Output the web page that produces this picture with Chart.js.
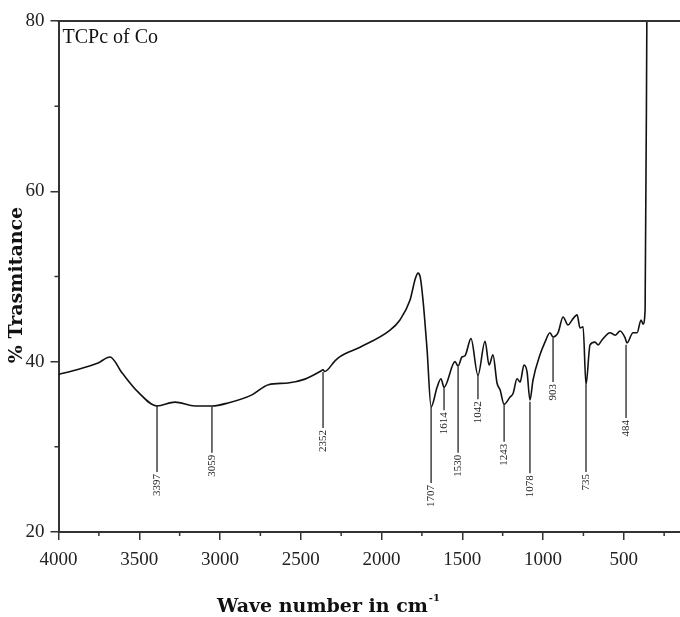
<!DOCTYPE html>
<html>
<head>
<meta charset="utf-8">
<script src="https://cdn.jsdelivr.net/npm/chart.js@4/dist/chart.umd.min.js"></script>
<style>
  html, body { margin: 0; padding: 0; background: #fff; }
  #wrap { width: 680px; height: 617px; }
</style>
</head>
<body>
<div id="wrap"><canvas id="chartIR" width="680" height="617"></canvas></div>
<script>
// IR spectrum
const waveNumbers = [4000, 3898, 3755, 3681, 3607, 3508, 3390, 3279, 3155, 3050, 2950, 2802, 2700, 2579, 2474, 2375, 2362, 2352, 2288, 2257, 2133, 1947, 1886, 1824, 1790, 1774, 1760, 1743, 1718, 1693, 1656, 1632, 1613, 1545, 1526, 1502, 1483, 1446, 1403, 1359, 1334, 1310, 1285, 1266, 1241, 1204, 1185, 1161, 1142, 1118, 1099, 1081, 1062, 1019, 988, 957, 938, 907, 876, 845, 820, 789, 771, 752, 734, 709, 678, 659, 635, 585, 554, 523, 492, 480, 443, 418, 393, 381, 368, 356];
const transmittance = [38.5, 39.0, 39.85, 40.55, 38.7, 36.45, 34.8, 35.25, 34.8, 34.8, 35.15, 36.1, 37.3, 37.5, 37.95, 38.9, 39.05, 38.85, 40.1, 40.6, 41.7, 43.7, 44.9, 47.2, 49.8, 50.4, 49.9, 47.2, 41.4, 34.7, 37.0, 38.0, 37.0, 40.0, 39.5, 40.55, 40.7, 42.7, 38.4, 42.4, 39.6, 40.8, 37.5, 36.7, 35.0, 35.85, 36.3, 38.0, 37.6, 39.6, 38.8, 35.5, 37.85, 40.8, 42.3, 43.4, 42.9, 43.4, 45.25, 44.3, 44.9, 45.5, 43.95, 44.1, 37.3, 41.96, 42.3, 41.96, 42.55, 43.4, 43.1, 43.6, 42.8, 42.2, 43.4, 43.4, 44.9, 44.4, 46.1, 85];

// peak markers: where the line sits, its top/bottom and the printed label
const markPos = [3390, 3050, 2362, 1693, 1613, 1526, 1403, 1241, 1081, 938, 734, 486];
const markTop = [34.8, 34.7, 38.8, 34.7, 37.0, 39.4, 38.4, 35.0, 35.3, 42.8, 37.3, 42.0];
const markBottom = [27.05, 29.3, 32.2, 25.75, 34.3, 29.3, 35.6, 30.6, 26.9, 37.6, 27.05, 33.4];
const markLabels = ['3397', '3059', '2352', '1707', '1614', '1530', '1042', '1243', '1078', '903', '735', '484'];

const xMajor = [4000, 3500, 3000, 2500, 2000, 1500, 1000, 500];
const xMinor = [3750, 3250, 2750, 2250, 1750, 1250, 750, 250];
const yMajor = [20, 40, 60, 80];
const yMinor = [30, 50, 70];

const INK = '#111';
const AXIS = '#333';
const SERIF = '"Liberation Serif", "Times New Roman", serif';
const TITLE = '"DejaVu Serif", serif';

const frame = {
  id: 'frame',
  afterDraw(chart) {
    const { ctx, chartArea, scales } = chart;
    const x = scales.x, y = scales.y;
    ctx.save();
    ctx.strokeStyle = AXIS;
    ctx.lineWidth = 2;
    // top border
    ctx.beginPath();
    ctx.moveTo(chartArea.left - 1, chartArea.top);
    ctx.lineTo(chartArea.right, chartArea.top);
    ctx.stroke();
    // minor ticks
    ctx.lineWidth = 1.5;
    ctx.beginPath();
    xMinor.forEach(v => {
      const px = x.getPixelForValue(v);
      ctx.moveTo(px, chartArea.bottom);
      ctx.lineTo(px, chartArea.bottom + 4);
    });
    yMinor.forEach(v => {
      const py = y.getPixelForValue(v);
      ctx.moveTo(chartArea.left, py);
      ctx.lineTo(chartArea.left - 4, py);
    });
    ctx.stroke();

    // peak labels
    ctx.fillStyle = '#222';
    ctx.font = '11px ' + SERIF;
    ctx.textAlign = 'right';
    ctx.textBaseline = 'middle';
    markLabels.forEach((t, i) => {
      const px = x.getPixelForValue(markPos[i]);
      const py = y.getPixelForValue(markBottom[i]);
      ctx.save();
      ctx.translate(px, py + 2);
      ctx.rotate(-Math.PI / 2);
      ctx.fillText(t, 0, 0);
      ctx.restore();
    });

    // inner caption
    ctx.fillStyle = INK;
    ctx.font = '20px ' + SERIF;
    ctx.textAlign = 'left';
    ctx.textBaseline = 'top';
    ctx.fillText('TCPc of Co', chartArea.left + 4, chartArea.top + 7);

    // axis titles
    ctx.textBaseline = 'alphabetic';
    const main = 'Wave number in cm';
    ctx.font = 'bold 19px ' + TITLE;
    const w = ctx.measureText(main).width;
    ctx.font = 'bold 10px ' + TITLE;
    const ws = ctx.measureText('-1').width;
    const cx = 328 - (w + ws) / 2;
    ctx.font = 'bold 19px ' + TITLE;
    ctx.fillText(main, cx, 612);
    ctx.font = 'bold 10px ' + TITLE;
    ctx.fillText('-1', cx + w + 1, 601);

    ctx.save();
    ctx.translate(22, 285);
    ctx.rotate(-Math.PI / 2);
    ctx.font = 'bold 19px ' + TITLE;
    ctx.textAlign = 'center';
    ctx.fillText('% Trasmitance', 0, 0);
    ctx.restore();
    ctx.restore();
  }
};

const markSets = markPos.map((p, i) => ({
  data: [{ x: p, y: markTop[i] }, { x: p, y: markBottom[i] }],
  borderColor: AXIS,
  borderWidth: 1.4,
  pointRadius: 0,
  tension: 0
}));

new Chart(document.getElementById('chartIR'), {
  type: 'line',
  data: {
    datasets: [{
      data: waveNumbers.map((v, i) => ({ x: v, y: transmittance[i] })),
      borderColor: INK,
      borderWidth: 1.6,
      pointRadius: 0,
      cubicInterpolationMode: 'monotone'
    }].concat(markSets)
  },
  options: {
    responsive: false,
    animation: false,
    devicePixelRatio: 1,
    layout: { padding: { top: 21, right: 0, left: 0, bottom: 0 } },
    plugins: { legend: { display: false }, tooltip: { enabled: false } },
    scales: {
      x: {
        type: 'linear',
        reverse: true,
        min: 152,
        max: 4000,
        afterBuildTicks: s => { s.ticks = xMajor.map(v => ({ value: v })); },
        afterFit: s => { s.height = 85; },
        grid: { drawOnChartArea: false, tickLength: 8, color: AXIS, lineWidth: 1.5 },
        border: { color: AXIS, width: 2 },
        ticks: { color: '#222', padding: 9, maxRotation: 0, font: { family: SERIF, size: 19 }, callback: v => String(v) }
      },
      y: {
        min: 20,
        max: 80,
        afterBuildTicks: s => { s.ticks = yMajor.map(v => ({ value: v })); },
        afterFit: s => { s.width = 58.5; },
        grid: { drawOnChartArea: false, tickLength: 8, color: AXIS, lineWidth: 1.5 },
        border: { color: AXIS, width: 2 },
        ticks: { color: '#222', padding: 6, font: { family: SERIF, size: 19 }, callback: v => String(v) }
      }
    }
  },
  plugins: [frame]
});
</script>
</body>
</html>
